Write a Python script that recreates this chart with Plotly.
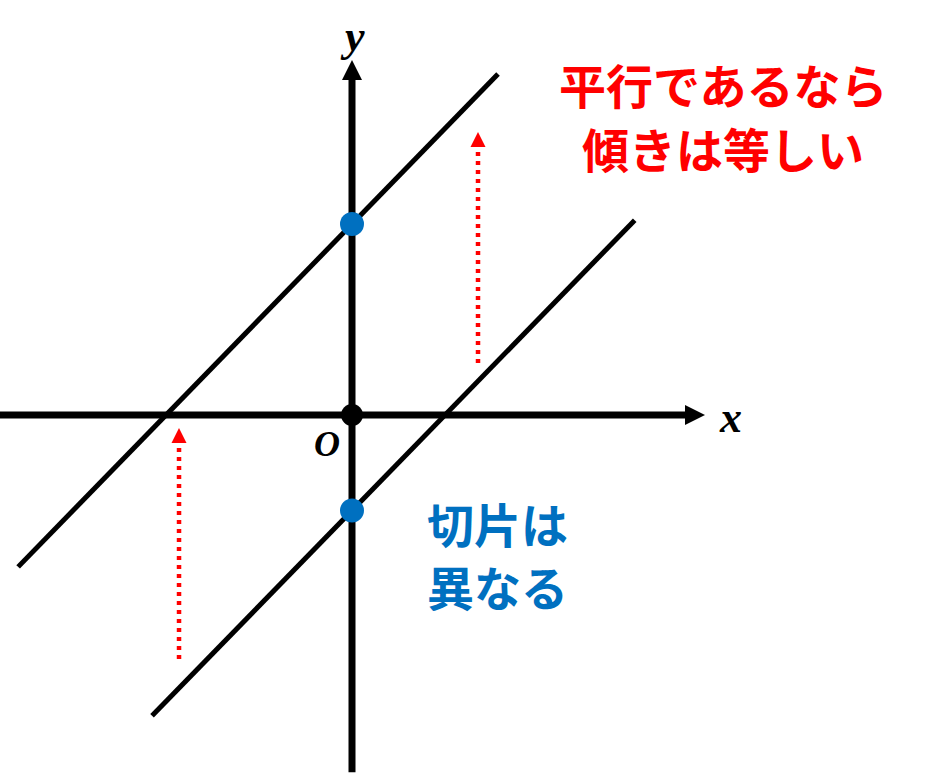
import plotly.graph_objects as go

# two parallel lines y = slope * x + b
slope = 1
intercepts = [2, -1]
line_x_start = [-3.59, -2.15]
line_x_end = [1.57, 3.04]

# red dotted arrows (showing the vertical shift)
shift_x = [-1.86, 1.355]
shift_y_from = [-2.555, 0.545]
shift_y_to = [-0.136, 2.963]

# axes extents
x_axis_span = [-3.82, 3.796]
y_axis_span = [-3.74, 3.717]

red_lines = ['平行であるなら', '傾きは等しい']
blue_lines = ['切片は', '異なる']

x_range = [-3.785, 6.312]
y_range = [-3.759, 4.346]
W, H = 939, 774
px_x = W / (x_range[1] - x_range[0])
px_y = H / (y_range[1] - y_range[0])

fig = go.Figure()

# x and y axes, stopping at the arrow head base
head = 20
fig.add_trace(go.Scatter(x=[x_axis_span[0], x_axis_span[1] - head / px_x], y=[0, 0],
                         mode='lines', line=dict(color='black', width=7),
                         hoverinfo='skip'))
fig.add_trace(go.Scatter(x=[0, 0], y=[y_axis_span[0], y_axis_span[1] - head / px_y],
                         mode='lines', line=dict(color='black', width=7),
                         hoverinfo='skip'))
fig.add_trace(go.Scatter(x=[x_axis_span[1]], y=[0], mode='markers',
                         marker=dict(symbol='arrow-right', size=head, color='black',
                                     line=dict(width=0)),
                         hoverinfo='skip'))
fig.add_trace(go.Scatter(x=[0], y=[y_axis_span[1]], mode='markers',
                         marker=dict(symbol='arrow-up', size=head, color='black',
                                     line=dict(width=0)),
                         hoverinfo='skip'))

# the parallel lines
for b, x0, x1 in zip(intercepts, line_x_start, line_x_end):
    fig.add_trace(go.Scatter(x=[x0, x1], y=[slope * x0 + b, slope * x1 + b],
                             mode='lines', line=dict(color='black', width=5),
                             hoverinfo='skip'))

# red dotted arrows
rhead = 15
for sx, y0, y1 in zip(shift_x, shift_y_from, shift_y_to):
    fig.add_trace(go.Scatter(x=[sx, sx], y=[y0, y1 - rhead / px_y],
                             mode='lines',
                             line=dict(color='#FF0000', width=4.5, dash='4px,5px'),
                             hoverinfo='skip'))
    fig.add_trace(go.Scatter(x=[sx], y=[y1], mode='markers',
                             marker=dict(symbol='arrow-up', size=rhead, color='#FF0000',
                                         line=dict(width=0)),
                             hoverinfo='skip'))

# origin and intercepts
fig.add_trace(go.Scatter(x=[0], y=[0], mode='markers',
                         marker=dict(size=22, color='black'), hoverinfo='skip'))
fig.add_trace(go.Scatter(x=[0, 0], y=intercepts, mode='markers',
                         marker=dict(size=24, color='#0070C0'), hoverinfo='skip'))

axis_font = dict(family='Liberation Serif', size=44, color='black')
fig.add_annotation(x=0, y=y_axis_span[1], xref='x', yref='y', text='<b><i>y</i></b>',
                   showarrow=False, yshift=24, font=axis_font)
fig.add_annotation(x=x_axis_span[1], y=0, xref='x', yref='y', text='<b><i>x</i></b>',
                   showarrow=False, xshift=25, yshift=-2, font=axis_font)
fig.add_annotation(x=0, y=0, xref='x', yref='y', text='<b><i>O</i></b>',
                   showarrow=False, xshift=-25, yshift=-29,
                   font=dict(family='Liberation Serif', size=36, color='black'))

# red note, one annotation per line
for txt, yc in zip(red_lines, [84, 147]):
    fig.add_annotation(x=723 / W, y=1 - yc / H, xref='paper', yref='paper',
                       text='<b>' + txt + '</b>', showarrow=False,
                       xanchor='center', yanchor='middle',
                       font=dict(family='Noto Sans CJK JP', size=47, color='#FF0000'))

# blue note
for txt, yc in zip(blue_lines, [522, 585]):
    fig.add_annotation(x=425 / W, y=1 - yc / H, xref='paper', yref='paper',
                       text='<b>' + txt + '</b>', showarrow=False,
                       xanchor='left', yanchor='middle',
                       font=dict(family='Noto Sans CJK JP', size=47, color='#0070C0'))

fig.update_layout(
    width=W, height=H,
    margin=dict(l=0, r=0, t=0, b=0),
    showlegend=False,
    plot_bgcolor='white', paper_bgcolor='white',
    xaxis=dict(range=x_range, visible=False, fixedrange=True),
    yaxis=dict(range=y_range, visible=False, fixedrange=True),
)

fig.write_html("out.html", config={'displayModeBar': False},
               post_script="document.body.style.margin = '0';")
